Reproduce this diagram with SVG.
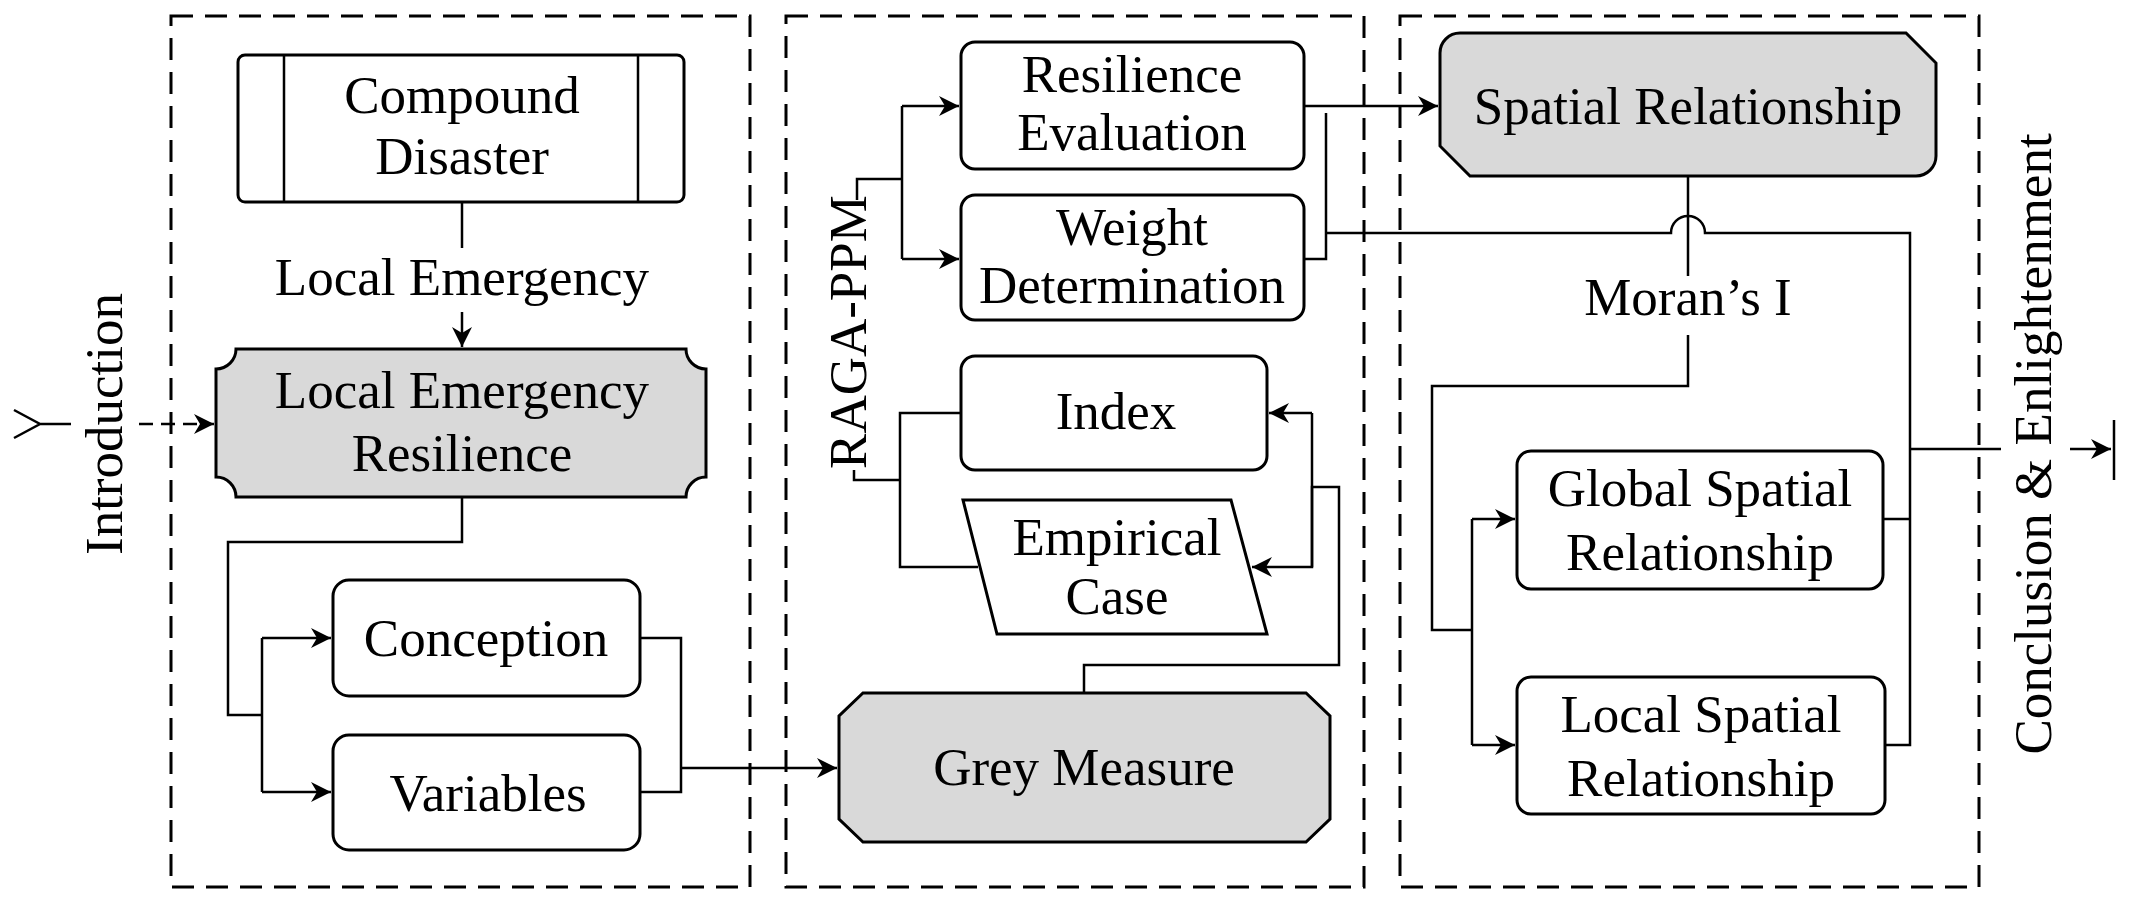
<svg xmlns="http://www.w3.org/2000/svg" width="2131" height="907" viewBox="0 0 2131 907">
<defs>
<marker id="a" viewBox="0 0 10 10" refX="10" refY="5" markerWidth="7" markerHeight="7" markerUnits="userSpaceOnUse" orient="auto"><path d="M0,0 L10,5 L0,10 L3,5 z" fill="#000"/></marker>
<marker id="ar" viewBox="0 0 10 10" refX="10" refY="5" markerWidth="22" markerHeight="20" markerUnits="userSpaceOnUse" orient="auto"><path d="M0,0 L10,5 L0,10 L3,5 z" fill="#000"/></marker>
</defs>
<style>
.p{fill:none;stroke:#000;stroke-width:3;stroke-dasharray:22,12}
.b{fill:#fff;stroke:#000;stroke-width:3}
.g{fill:#d9d9d9;stroke:#000;stroke-width:3}
.c{fill:none;stroke:#000;stroke-width:2.5}
text{font-family:"Liberation Serif","DejaVu Serif",serif;font-size:53px;fill:#000;text-anchor:middle}
</style>
<rect width="2131" height="907" fill="#fff"/>
<g id="panels">
<rect class="p" x="171" y="16" width="579" height="871"/>
<rect class="p" x="786" y="16" width="578" height="871"/>
<rect class="p" x="1400" y="16" width="579" height="871"/>
</g>
<g id="connectors">
<path class="c" d="M14,410 L40,424 L14,438 M40,424 H71"/>
<path class="c" d="M139,424 H214" stroke-dasharray="14,8" marker-end="url(#ar)"/>
<path class="c" d="M462,202 V248"/>
<path class="c" d="M462,312 V347" marker-end="url(#ar)"/>
<path class="c" d="M462,497 V542 H228 V715 H262"/>
<path class="c" d="M262,638 V792"/>
<path class="c" d="M262,638 H331" marker-end="url(#ar)"/>
<path class="c" d="M262,792 H331" marker-end="url(#ar)"/>
<path class="c" d="M640,638 H681 V792 H640"/>
<path class="c" d="M681,768 H837" marker-end="url(#ar)"/>
<path class="c" d="M857,200 V179 H902 M902,106 V259"/>
<path class="c" d="M902,106 H959" marker-end="url(#ar)"/>
<path class="c" d="M902,259 H959" marker-end="url(#ar)"/>
<path class="c" d="M854,470 V480 H900 M961,413 H900 V567 H978"/>
<path class="c" d="M1084,693 V665 H1339 V487 H1312 V567"/>
<path class="c" d="M1312,413 H1269" marker-end="url(#ar)"/>
<path class="c" d="M1312,413 V567 H1252" marker-end="url(#ar)"/>
<path class="c" d="M1304,106 H1438" marker-end="url(#ar)"/>
<path class="c" d="M1304,259 H1326 V113 M1326,233 H1671 A17,17 0 0 1 1705,233 H1910 V745 H1885 M1883,519 H1910"/>
<path class="c" d="M1688,176 V276 M1688,335 V386 H1432 V630 H1472"/>
<path class="c" d="M1472,519 V745"/>
<path class="c" d="M1472,519 H1515" marker-end="url(#ar)"/>
<path class="c" d="M1472,745 H1515" marker-end="url(#ar)"/>
<path class="c" d="M1910,449 H2001 M2070,449 H2111" marker-end="url(#ar)"/>
<path class="c" d="M2114,420 V480"/>
</g>
<g id="compound">
<rect class="b" x="238" y="55" width="446" height="147" rx="7"/>
<path class="c" d="M284,55 V202 M638,55 V202"/>
<text x="462" y="113">Compound</text><text x="462" y="174">Disaster</text>
</g>
<g id="label-local"><text x="462" y="295">Local Emergency</text></g>
<g id="ler">
<path class="g" d="M236,349 H686 A20,20 0 0 0 706,369 V477 A20,20 0 0 0 686,497 H236 A20,20 0 0 0 216,477 V369 A20,20 0 0 0 236,349 Z"/>
<text x="462" y="408">Local Emergency</text><text x="462" y="471">Resilience</text>
</g>
<g id="intro"><text transform="translate(122,424) rotate(-90)">Introduction</text></g>
<g id="conception"><rect class="b" x="333" y="580" width="307" height="116" rx="16"/><text x="486" y="656">Conception</text></g>
<g id="variables"><rect class="b" x="333" y="735" width="307" height="115" rx="16"/><text x="488" y="811">Variables</text></g>
<g id="grey">
<path class="g" d="M863,693 H1306 L1330,716 V819 L1306,842 H863 L839,819 V716 Z"/>
<text x="1084" y="785">Grey Measure</text>
</g>
<g id="raga"><text transform="translate(866,332) rotate(-90)">RAGA-PPM</text></g>
<g id="reseval"><rect class="b" x="961" y="42" width="343" height="127" rx="14"/><text x="1132" y="92">Resilience</text><text x="1132" y="150">Evaluation</text></g>
<g id="weight"><rect class="b" x="961" y="195" width="343" height="125" rx="14"/><text x="1132" y="245">Weight</text><text x="1132" y="303">Determination</text></g>
<g id="index"><rect class="b" x="961" y="356" width="306" height="114" rx="14"/><text x="1116" y="429">Index</text></g>
<g id="empirical"><path class="b" d="M963,500 H1231 L1267,634 H997 Z"/><text x="1117" y="555">Empirical</text><text x="1117" y="614">Case</text></g>
<g id="spatial">
<path class="g" d="M1460,33 H1906 L1936,63 V156 A20,20 0 0 1 1916,176 H1470 L1440,146 V53 A20,20 0 0 1 1460,33 Z"/>
<text x="1688" y="124">Spatial Relationship</text>
</g>
<g id="moran"><text x="1688" y="315">Moran’s I</text></g>
<g id="global"><rect class="b" x="1517" y="451" width="366" height="138" rx="14"/><text x="1700" y="506">Global Spatial</text><text x="1700" y="570">Relationship</text></g>
<g id="localsp"><rect class="b" x="1517" y="677" width="368" height="137" rx="14"/><text x="1701" y="732">Local Spatial</text><text x="1701" y="796">Relationship</text></g>
<g id="concl"><text transform="translate(2051,444) rotate(-90)">Conclusion &amp; Enlightenment</text></g>
</svg>
